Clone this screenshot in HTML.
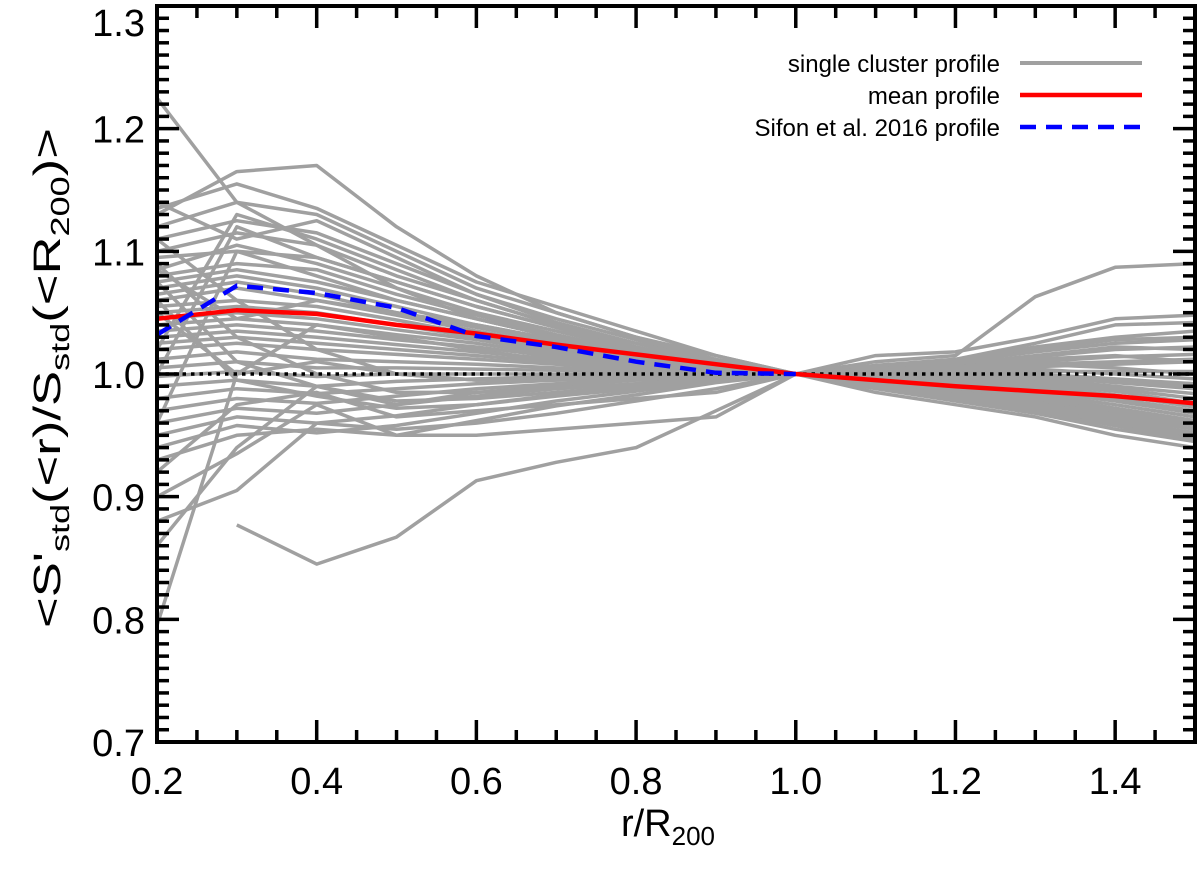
<!DOCTYPE html>
<html><head><meta charset="utf-8"><style>
body{margin:0;background:#fff;}
svg{display:block;font-family:"Liberation Sans","DejaVu Sans",sans-serif;}
</style></head><body>
<svg id="chart" width="1200" height="870">
<text x="668" y="836" text-anchor="middle" font-size="38">r/R<tspan font-size="26" dy="9">200</tspan></text>
<text transform="translate(60,378) rotate(-90)" text-anchor="middle" font-size="38" textLength="500" lengthAdjust="spacingAndGlyphs">&lt;S'<tspan font-size="26" dy="9">std</tspan><tspan dy="-9">(&lt;r)/S</tspan><tspan font-size="26" dy="9">std</tspan><tspan dy="-9">(&lt;R</tspan><tspan font-size="26" dy="9">200</tspan><tspan dy="-9">)&gt;</tspan></text>
<g font-size="24">
<text x="1000" y="72" text-anchor="end">single cluster profile</text>
<line x1="1020" x2="1142" y1="63" y2="63" stroke="#a0a0a0" stroke-width="4"/>
<text x="1000" y="104" text-anchor="end">mean profile</text>
<line x1="1020" x2="1142" y1="95" y2="95" stroke="#ff0000" stroke-width="4.5"/>
<text x="1000" y="136" text-anchor="end">Sifon et al. 2016 profile</text>
<line x1="1020" x2="1142" y1="127" y2="127" stroke="#0000ff" stroke-width="4.5" stroke-dasharray="16,10"/>
</g>
</svg>
<script>
const xValues=[0.2,0.3,0.4,0.5,0.6,0.7,0.8,0.9,1.0,1.1,1.2,1.3,1.4,1.5];
const meanProfile=[1.045,1.052,1.049,1.040,1.033,1.024,1.016,1.008,1.0,0.995,0.990,0.986,0.982,0.976];
const sifonX=[0.2,0.3,0.4,0.5,0.6,0.7,0.8,0.9,1.0];
const sifonProfile=[1.032,1.072,1.066,1.054,1.031,1.022,1.010,1.001,1.0];
const clusterProfiles=[
[1.225,1.140,1.105,1.070,1.045,1.030,1.015,1.005,1.0,0.990,0.984,0.974,0.962,0.952],
[1.130,1.165,1.170,1.120,1.080,1.050,1.030,1.015,1.0,0.993,0.988,0.982,0.972,0.962],
[0.795,1.000,1.040,1.030,1.020,1.010,1.005,1.000,1.0,0.990,0.985,0.975,0.965,0.950],
[null,0.877,0.845,0.867,0.913,0.928,0.940,0.970,1.0,1.010,1.015,1.063,1.087,1.090],
[0.860,0.940,0.990,0.975,0.985,0.990,0.995,0.996,1.0,1.015,1.018,1.030,1.045,1.048],
[0.900,0.935,0.975,0.950,0.950,0.955,0.960,0.965,1.0,1.005,1.012,1.025,1.040,1.042],
[1.135,1.155,1.135,1.105,1.075,1.055,1.035,1.015,1.0,0.985,0.975,0.965,0.950,0.940],
[1.120,1.140,1.130,1.100,1.070,1.050,1.030,1.012,1.0,0.988,0.978,0.968,0.955,0.945],
[1.110,1.125,1.115,1.090,1.065,1.045,1.028,1.010,1.0,0.990,0.982,0.970,0.958,0.948],
[1.100,1.115,1.105,1.080,1.060,1.040,1.025,1.010,1.0,0.992,0.984,0.975,0.962,0.952],
[1.095,1.100,1.095,1.075,1.055,1.038,1.022,1.008,1.0,0.993,0.986,0.976,0.965,0.955],
[1.085,1.105,1.090,1.070,1.050,1.035,1.020,1.008,1.0,0.994,0.988,0.978,0.968,0.958],
[1.080,1.090,1.085,1.065,1.048,1.032,1.018,1.007,1.0,0.995,0.989,0.980,0.970,0.960],
[1.075,1.085,1.075,1.060,1.045,1.030,1.017,1.006,1.0,0.996,0.990,0.982,0.972,0.962],
[1.070,1.080,1.070,1.055,1.040,1.028,1.015,1.006,1.0,0.996,0.991,0.984,0.975,0.965],
[1.065,1.075,1.065,1.050,1.038,1.026,1.014,1.005,1.0,0.997,0.992,0.986,0.978,0.968],
[1.060,1.070,1.060,1.048,1.035,1.024,1.013,1.005,1.0,0.997,0.993,0.988,0.980,0.970],
[1.055,1.060,1.055,1.044,1.032,1.022,1.012,1.004,1.0,0.998,0.994,0.990,0.983,0.973],
[1.050,1.055,1.050,1.040,1.030,1.020,1.011,1.004,1.0,0.998,0.995,0.992,0.986,0.976],
[1.045,1.050,1.045,1.036,1.028,1.018,1.010,1.003,1.0,0.999,0.996,0.994,0.988,0.980],
[1.040,1.045,1.040,1.032,1.025,1.016,1.009,1.003,1.0,0.999,0.997,0.996,0.990,0.984],
[1.035,1.040,1.035,1.028,1.022,1.014,1.008,1.002,1.0,1.000,0.998,0.998,0.993,0.988],
[1.030,1.035,1.030,1.024,1.018,1.012,1.006,1.002,1.0,1.001,1.000,1.000,0.996,0.992],
[1.025,1.030,1.025,1.020,1.015,1.010,1.005,1.001,1.0,1.002,1.002,1.004,1.000,0.996],
[1.020,1.025,1.020,1.016,1.012,1.008,1.004,1.001,1.0,1.003,1.004,1.008,1.005,1.000],
[1.012,1.018,1.012,1.010,1.008,1.005,1.003,1.001,1.0,1.004,1.006,1.012,1.015,1.010],
[1.005,1.010,1.005,1.005,1.004,1.003,1.002,1.000,1.0,1.005,1.008,1.015,1.022,1.020],
[0.998,1.002,0.998,1.000,1.000,1.000,1.000,1.000,1.0,1.006,1.010,1.020,1.028,1.030],
[0.990,0.995,0.990,0.994,0.996,0.998,0.999,1.000,1.0,1.007,1.012,1.022,1.030,1.035],
[0.980,0.988,0.984,0.988,0.992,0.995,0.997,0.999,1.0,1.006,1.010,1.018,1.025,1.028],
[0.970,0.980,0.976,0.982,0.988,0.992,0.995,0.998,1.0,1.005,1.009,1.014,1.020,1.022],
[0.960,0.972,0.968,0.975,0.982,0.988,0.992,0.997,1.0,1.004,1.006,1.010,1.014,1.016],
[0.950,0.965,0.960,0.966,0.975,0.983,0.990,0.996,1.0,1.003,1.004,1.006,1.008,1.010],
[0.940,0.958,0.952,0.958,0.968,0.978,0.986,0.994,1.0,1.002,1.002,1.002,1.002,1.002],
[0.930,0.950,0.955,0.950,0.962,0.974,0.983,0.993,1.0,1.000,0.998,0.996,0.994,0.992],
[0.920,0.975,0.985,0.965,0.970,0.975,0.980,0.985,1.0,1.002,1.000,0.998,0.994,0.990],
[1.110,1.060,1.020,1.000,0.995,0.996,0.997,0.998,1.0,0.995,0.988,0.980,0.970,0.962],
[1.090,1.030,1.000,0.985,0.985,0.988,0.992,0.996,1.0,0.994,0.986,0.976,0.966,0.958],
[1.075,1.010,0.990,0.978,0.980,0.985,0.990,0.995,1.0,0.993,0.984,0.973,0.962,0.952],
[1.060,0.995,0.982,0.972,0.975,0.982,0.988,0.994,1.0,0.992,0.982,0.970,0.958,0.945],
[1.000,1.120,1.095,1.075,1.055,1.038,1.020,1.006,1.0,0.990,0.980,0.970,0.958,0.946],
[1.020,1.130,1.110,1.085,1.060,1.040,1.022,1.008,1.0,0.992,0.984,0.972,0.960,0.950],
[0.960,1.100,1.080,1.060,1.045,1.030,1.016,1.005,1.0,0.993,0.986,0.976,0.964,0.955],
[1.050,1.000,1.010,1.000,0.995,0.995,0.996,0.998,1.0,0.996,0.990,0.982,0.972,0.960],
[1.085,1.045,1.060,1.050,1.040,1.028,1.016,1.006,1.0,0.994,0.986,0.975,0.963,0.950],
[0.880,0.905,0.960,0.955,0.960,0.968,0.978,0.988,1.0,1.004,1.006,1.008,1.010,1.012],
[1.140,1.110,1.125,1.095,1.065,1.042,1.025,1.010,1.0,0.991,0.982,0.972,0.960,0.950]
];
const xTicks=[0.2,0.4,0.6,0.8,1.0,1.2,1.4];
const yTicks=[0.7,0.8,0.9,1.0,1.1,1.2,1.3];

const L=157,R=1195,T=6,B=742;
const xMin=0.2,xMax=1.5,yMin=0.7,yMax=1.3;
function X(v){return L+(v-xMin)/(xMax-xMin)*(R-L);}
function Y(v){return B-(v-yMin)/(yMax-yMin)*(B-T);}
const NS='http://www.w3.org/2000/svg';
const svg=document.getElementById('chart');
function mk(tag,attrs,parent){const e=document.createElementNS(NS,tag);for(const k in attrs)e.setAttribute(k,attrs[k]);(parent||svg).insertBefore(e,null);return e;}
const clip=mk('clipPath',{id:'pc'});mk('rect',{x:L,y:T,width:R-L,height:B-T},clip);
const plot=mk('g',{'clip-path':'url(#pc)'});
svg.insertBefore(plot,svg.firstChild);


function pathFrom(xs,ys){let d='',pen=false;ys.forEach((v,i)=>{if(v===null){pen=false;return;}d+=(pen?'L':'M')+X(xs[i]).toFixed(1)+','+Y(v).toFixed(1);pen=true;});return d;}
clusterProfiles.forEach((p,i)=>{
  const e=mk('path',{d:pathFrom(xValues,p),fill:'none',stroke:'#a0a0a0','stroke-width':3.5,'stroke-linejoin':'round'},plot);
  
  
});
const ref=mk('line',{x1:L,x2:R,y1:Y(1.0),y2:Y(1.0),stroke:'#000','stroke-width':3.5,'stroke-dasharray':'3.5,5'},plot);


const mean=mk('path',{d:pathFrom(xValues,meanProfile),fill:'none',stroke:'#ff0000','stroke-width':4.5},plot);


const sif=mk('path',{d:pathFrom(sifonX,sifonProfile),fill:'none',stroke:'#0000ff','stroke-width':4.5,'stroke-dasharray':'16,10'},plot);


const frame=mk('rect',{x:L,y:T,width:R-L,height:B-T,fill:'none',stroke:'#000','stroke-width':4});


const tg=mk('g',{stroke:'#000','stroke-width':3.5});


for(let i=0;i<=26;i++){const x=X(xMin+i*0.05);const len=(i%4===0)?22:12;
  mk('line',{x1:x,x2:x,y1:B,y2:B-len},tg);mk('line',{x1:x,x2:x,y1:T,y2:T+len},tg);}
for(let i=0;i<=60;i++){const y=Y(yMin+i*0.01);const len=(i%10===0)?22:12;
  mk('line',{x1:L,x2:L+len,y1:y,y2:y},tg);mk('line',{x1:R,x2:R-len,y1:y,y2:y},tg);}
xTicks.forEach(v=>{const t=mk('text',{x:X(v),y:B+52,'text-anchor':'middle','font-size':38});t.textContent=v.toFixed(1);
  
  });
yTicks.forEach(v=>{let y=Y(v)+14;if(y<36)y=36;const t=mk('text',{x:L-12,y:y,'text-anchor':'end','font-size':38});t.textContent=v.toFixed(1);
  
  });
</script>
</body></html>
